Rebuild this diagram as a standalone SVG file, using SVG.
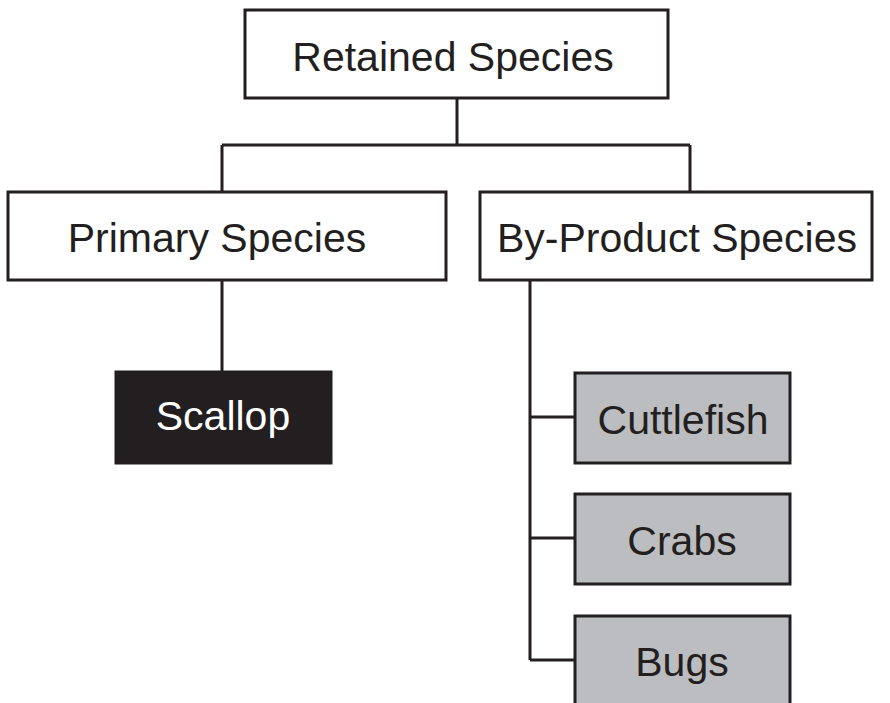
<svg xmlns="http://www.w3.org/2000/svg" width="890" height="703" viewBox="0 0 890 703">
<style>
.box{fill:#ffffff;stroke:#231f20;stroke-width:3}
.grey{fill:#bcbdc0;stroke:#231f20;stroke-width:3}
.dark{fill:#231f20;stroke:#231f20;stroke-width:1}
.t{font-family:"Liberation Sans",Arial,sans-serif;font-size:41px;fill:#231f20;text-anchor:middle}
.w{fill:#ffffff}
.c{fill:none;stroke:#231f20;stroke-width:3}
</style>
<rect width="890" height="703" fill="#ffffff"/>
<g id="connectors">
<path class="c" d="M457 98V145M222 145H690M222 145V192M690 145V192"/>
<path class="c" d="M222 280V371"/>
<path class="c" d="M530 280V660M530 417H575M530 538H575M530 660H575"/>
</g>
<g id="retained">
<rect class="box" x="245" y="10" width="423" height="88"/>
<text class="t" x="453" y="71">Retained Species</text>
</g>
<g id="primary">
<rect class="box" x="8" y="192" width="438" height="88"/>
<text class="t" x="217" y="252">Primary Species</text>
</g>
<g id="byproduct">
<rect class="box" x="480" y="192" width="392" height="88"/>
<text class="t" x="677" y="252">By-Product Species</text>
</g>
<g id="scallop">
<rect class="dark" x="115" y="371" width="217" height="93"/>
<text class="t w" x="223" y="430">Scallop</text>
</g>
<g id="cuttlefish">
<rect class="grey" x="575" y="373" width="215" height="90"/>
<text class="t" x="683" y="434">Cuttlefish</text>
</g>
<g id="crabs">
<rect class="grey" x="575" y="494" width="215" height="90"/>
<text class="t" x="682" y="555">Crabs</text>
</g>
<g id="bugs">
<rect class="grey" x="575" y="616" width="215" height="100"/>
<text class="t" x="682" y="676">Bugs</text>
</g>
</svg>
